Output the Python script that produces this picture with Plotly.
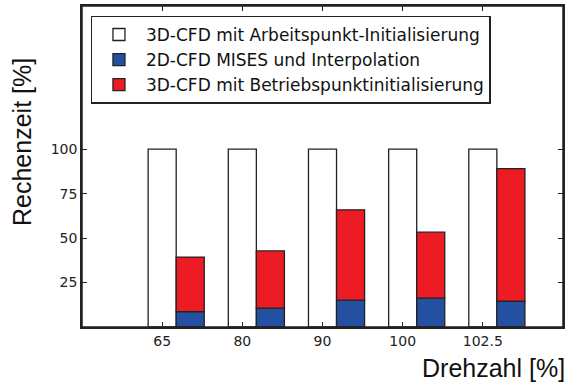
import plotly.graph_objects as go

categories = ["65", "80", "90", "100", "102.5"]
arbeitspunkt = [100, 100, 100, 100, 100]
mises = [8.7, 10.6, 15.1, 16.2, 14.6]
betriebspunkt = [30.6, 32.2, 50.8, 37.1, 74.5]
y_ticks = [25, 50, 75, 100]

pos = list(range(1, len(categories) + 1))
w = 0.35
line = dict(color="#222222", width=1.3)

fig = go.Figure()
fig.add_trace(go.Bar(x=pos, y=arbeitspunkt, width=w, name="3D-CFD mit Arbeitspunkt-Initialisierung",
                     marker=dict(color="white", line=line)))
fig.add_trace(go.Bar(x=[p + w for p in pos], y=mises, width=w, name="2D-CFD MISES und Interpolation",
                     marker=dict(color="#2350A0", line=line)))
fig.add_trace(go.Bar(x=[p + w for p in pos], y=betriebspunkt, base=mises, width=w,
                     name="3D-CFD mit Betriebspunktinitialisierung",
                     marker=dict(color="#ED1C24", line=line)))

axis_common = dict(showline=True, linecolor="#222222", linewidth=1.5, mirror="ticks",
                   ticks="inside", ticklen=5, tickcolor="#222222", showgrid=False, zeroline=False,
                   automargin=False,
                   tickfont=dict(family="DejaVu Sans", size=14, color="#222222"))

fig.update_layout(
    width=572, height=387,
    margin=dict(l=82, r=9, t=6, b=60, autoexpand=False),
    paper_bgcolor="white", plot_bgcolor="white",
    barmode="overlay",
    showlegend=True,
    legend=dict(x=0.018, y=0.97, xanchor="left", yanchor="top",
                bgcolor="white", bordercolor="#222222", borderwidth=1.3,
                font=dict(family="DejaVu Sans", size=17, color="#111111"),
                traceorder="normal", tracegroupgap=0, itemwidth=44),
    xaxis=dict(range=[0, 6], tickvals=pos, ticktext=categories, **axis_common),
    yaxis=dict(range=[0, 180.5], tickvals=y_ticks, ticktext=[str(t) for t in y_ticks], **axis_common),
    shapes=[dict(type="rect", xref="paper", yref="paper", x0=0, x1=1, y0=0, y1=1,
                 line=dict(color="#222222", width=1.5), layer="above")],
    annotations=[
        dict(text="Drehzahl [%]", x=(567 - 82) / (572 - 82 - 9), y=-0.128, xref="paper", yref="paper",
             xanchor="right", yanchor="middle", showarrow=False,
             font=dict(family="Liberation Sans", size=25, color="#111111")),
        dict(text="Rechenzeit [%]", x=(22 - 82) / (572 - 82 - 9), y=(327 - 142) / 321,
             xref="paper", yref="paper",
             xanchor="center", yanchor="middle", showarrow=False, textangle=-90,
             font=dict(family="Liberation Sans", size=25, color="#111111")),
    ],
)

fig.write_html("out.html", config={"displayModeBar": False},
               post_script="document.body.style.margin='0';")
